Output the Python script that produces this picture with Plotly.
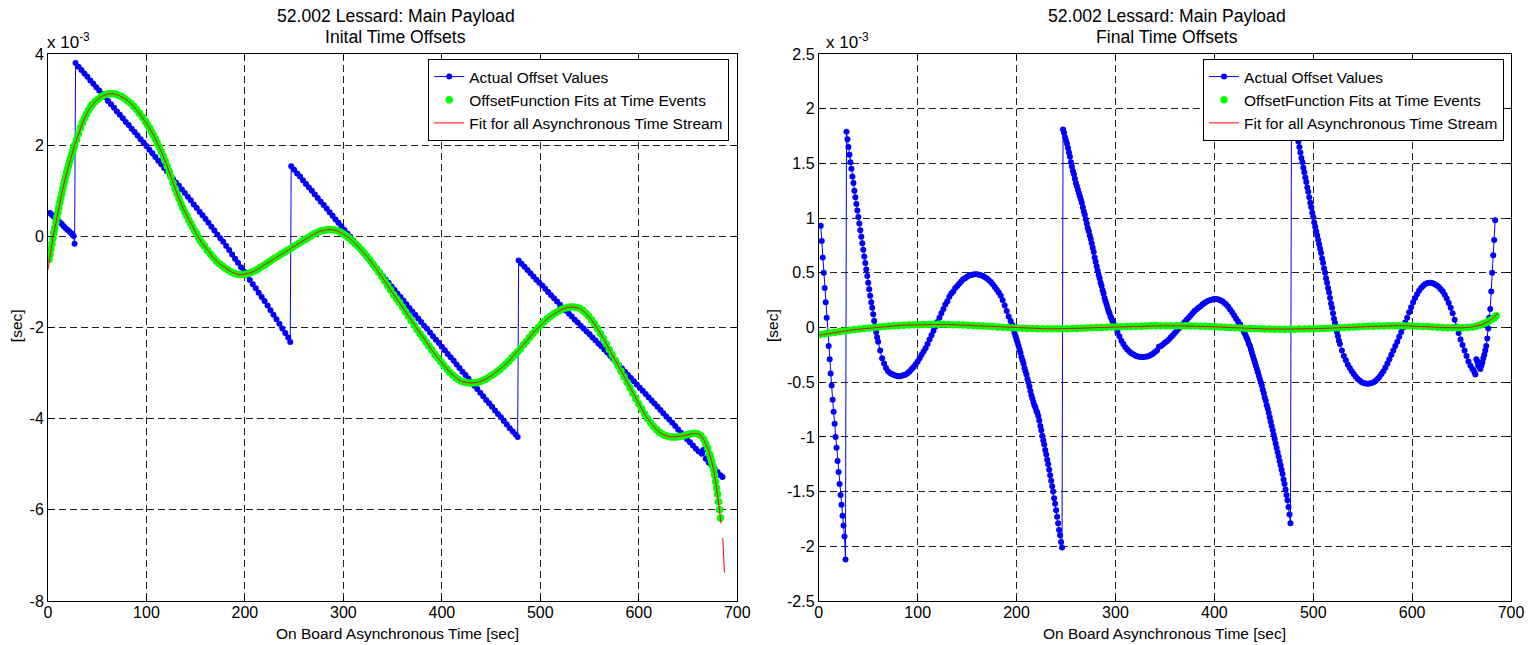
import plotly.graph_objects as go

# ---------------- tick labels ----------------
X_TICKS = [0, 100, 200, 300, 400, 500, 600, 700]
X_TICK_TEXT = ["0", "100", "200", "300", "400", "500", "600", "700"]
LEFT_Y_TICKS = [-8, -6, -4, -2, 0, 2, 4]
LEFT_Y_TICK_TEXT = ["-8", "-6", "-4", "-2", "0", "2", "4"]
RIGHT_Y_TICKS = [-2.5, -2, -1.5, -1, -0.5, 0, 0.5, 1, 1.5, 2, 2.5]
RIGHT_Y_TICK_TEXT = ["-2.5", "-2", "-1.5", "-1", "-0.5", "0", "0.5", "1", "1.5", "2", "2.5"]

TITLE_LINE1 = "52.002 Lessard: Main Payload"
LEFT_TITLE_LINE2 = "Inital Time Offsets"
RIGHT_TITLE_LINE2 = "Final Time Offsets"
X_LABEL = "On Board Asynchronous Time [sec]"
Y_LABEL = "[sec]"
NAMES = ["Actual Offset Values", "OffsetFunction Fits at Time Events",
         "Fit for all Asynchronous Time Stream"]

# ---------------- data: (time [s], offset [x 1e-3 s]) ----------------
LEFT_ACTUAL = [
    (2,0.51),(4,0.47),(6,0.43),(8,0.39),(10,0.35),(12,0.31),(14,0.27),(16,0.22),(18,0.18),(20,0.14),
    (22,0.10),(24,0.06),(26,0.01),(27,-0.16),
    (28,3.80),(31,3.72),(34,3.65),(37,3.57),(40,3.50),(43,3.42),(46,3.35),(49,3.27),(52,3.20),(55,3.12),
    (58,3.05),(61,2.97),(64,2.90),(67,2.82),(70,2.74),(73,2.67),(76,2.59),(79,2.51),(82,2.44),(85,2.36),
    (88,2.29),(91,2.21),(94,2.13),(97,2.06),(100,1.98),(103,1.90),(106,1.82),(109,1.74),(112,1.66),(115,1.58),
    (118,1.50),(121,1.42),(124,1.34),(127,1.26),(130,1.18),(133,1.11),(136,1.03),(139,0.95),(142,0.87),(145,0.79),
    (148,0.70),(151,0.62),(154,0.54),(157,0.46),(160,0.38),(163,0.30),(166,0.21),(169,0.13),(172,0.04),(175,-0.04),
    (178,-0.12),(181,-0.21),(184,-0.30),(187,-0.40),(190,-0.49),(193,-0.58),(196,-0.68),(199,-0.77),(202,-0.86),
    (205,-0.96),(208,-1.05),(211,-1.14),(214,-1.24),(217,-1.33),(220,-1.42),(223,-1.52),(226,-1.62),(229,-1.72),
    (232,-1.82),(235,-1.92),(238,-2.02),(241,-2.12),(244,-2.22),(246,-2.32),
    (247,1.54),(250,1.46),(253,1.38),(256,1.31),(259,1.23),(262,1.15),(265,1.07),(268,1.00),(271,0.92),(274,0.84),
    (277,0.76),(280,0.69),(283,0.61),(286,0.53),(289,0.45),(292,0.37),(295,0.30),(298,0.22),(301,0.14),(304,0.06),
    (307,-0.01),(310,-0.09),(313,-0.17),(316,-0.25),(319,-0.32),(322,-0.40),(325,-0.48),(328,-0.56),(331,-0.64),
    (334,-0.71),(337,-0.79),(340,-0.87),(343,-0.95),(346,-1.02),(349,-1.10),(352,-1.18),(355,-1.26),(358,-1.33),
    (361,-1.41),(364,-1.49),(367,-1.57),(370,-1.65),(373,-1.72),(376,-1.80),(379,-1.88),(382,-1.96),(385,-2.03),
    (388,-2.11),(391,-2.19),(394,-2.27),(397,-2.34),(400,-2.42),(403,-2.50),(406,-2.58),(409,-2.65),(412,-2.73),
    (415,-2.81),(418,-2.89),(421,-2.97),(424,-3.04),(427,-3.12),(430,-3.20),(433,-3.28),(436,-3.35),(439,-3.43),
    (442,-3.51),(445,-3.59),(448,-3.66),(451,-3.74),(454,-3.82),(457,-3.90),(460,-3.97),(463,-4.05),(466,-4.13),
    (469,-4.21),(472,-4.28),(475,-4.35),(477,-4.40),
    (478,-0.53),(481,-0.60),(484,-0.67),(487,-0.74),(490,-0.81),(493,-0.88),(496,-0.95),(499,-1.02),(502,-1.08),
    (505,-1.15),(508,-1.22),(511,-1.29),(514,-1.36),(517,-1.43),(520,-1.50),(523,-1.57),(526,-1.63),(529,-1.70),
    (532,-1.76),(535,-1.83),(538,-1.89),(541,-1.96),(544,-2.02),(547,-2.09),(550,-2.15),(553,-2.22),(556,-2.28),
    (559,-2.35),(562,-2.41),(565,-2.48),(568,-2.55),(571,-2.62),(574,-2.69),(577,-2.76),(580,-2.83),(583,-2.90),
    (586,-2.97),(589,-3.04),(592,-3.11),(595,-3.18),(598,-3.25),(601,-3.32),(604,-3.39),(607,-3.46),(610,-3.53),
    (613,-3.60),(616,-3.67),(619,-3.74),(622,-3.81),(625,-3.88),(628,-3.95),(631,-4.02),(634,-4.09),(637,-4.16),
    (640,-4.24),(643,-4.31),(646,-4.38),(649,-4.45),(652,-4.52),(655,-4.59),(658,-4.66),(661,-4.72),(664,-4.77),
    (666,-4.68),(668,-4.88),(671,-4.96),(674,-5.03),(677,-5.10),(680,-5.17),(683,-5.24),(685,-5.28),
]

LEFT_FIT_EVENTS = [
    (1,-0.50),(2,-0.40),(3,-0.28),(4,-0.16),(5,-0.04),(6,0.08),(7,0.19),(8,0.31),(9,0.42),(10,0.53),
    (11,0.63),(12,0.74),(13,0.84),(14,0.94),(15,1.04),(16,1.13),(17,1.22),(18,1.31),(19,1.40),(20,1.48),
    (21,1.56),(22,1.64),(23,1.72),(24,1.79),(25,1.86),(26,1.93),(27,2.00),
    (29,2.12),(31,2.25),(33,2.38),(35,2.49),(37,2.59),(39,2.68),(41,2.76),(43,2.83),(45,2.89),
    (48,2.96),(51,3.01),(54,3.06),(57,3.10),(60,3.12),(63,3.13),(66,3.13),(69,3.12),(72,3.09),(75,3.06),
    (78,3.02),(81,2.97),(84,2.92),(87,2.85),(90,2.78),(93,2.70),(96,2.61),(99,2.52),
    (101,2.45),(103,2.38),(105,2.30),(107,2.22),(109,2.14),(111,2.05),(113,1.96),(115,1.86),(117,1.76),
    (119,1.65),(121,1.54),(123,1.42),(125,1.30),(127,1.17),(129,1.05),(131,0.94),(133,0.83),(135,0.72),
    (137,0.62),(139,0.53),(141,0.45),(143,0.36),(145,0.28),(147,0.20),(149,0.12),(151,0.05),(153,-0.03),
    (155,-0.10),(157,-0.16),(159,-0.22),
    (162,-0.31),(165,-0.39),(168,-0.47),(171,-0.54),(174,-0.60),(177,-0.65),(180,-0.70),(183,-0.74),(186,-0.78),
    (189,-0.81),(192,-0.83),(195,-0.84),(198,-0.84),(201,-0.83),(204,-0.81),(207,-0.79),(210,-0.76),(213,-0.72),
    (216,-0.68),(219,-0.64),(222,-0.60),(225,-0.55),(228,-0.51),(231,-0.47),(234,-0.43),(237,-0.39),(240,-0.35),
    (243,-0.31),(246,-0.27),(249,-0.23),(252,-0.19),(255,-0.15),(258,-0.11),(261,-0.07),(264,-0.03),(267,0.01),
    (270,0.05),(273,0.08),(276,0.11),(279,0.13),(282,0.14),(285,0.15),(288,0.15),(291,0.14),(294,0.12),(297,0.09),
    (300,0.05),(303,0.01),(306,-0.04),(309,-0.10),(312,-0.16),(315,-0.22),(318,-0.29),(321,-0.36),(324,-0.44),
    (327,-0.52),(330,-0.61),(333,-0.70),(336,-0.79),(339,-0.88),(342,-0.98),(345,-1.08),(348,-1.18),(351,-1.28),
    (354,-1.37),(357,-1.45),(360,-1.55),(363,-1.65),(366,-1.75),(369,-1.85),(372,-1.95),(375,-2.05),(378,-2.14),
    (381,-2.23),(384,-2.32),(387,-2.41),(390,-2.50),(393,-2.59),(396,-2.67),(399,-2.75),(402,-2.83),(405,-2.91),
    (408,-2.98),(411,-3.04),(414,-3.10),(417,-3.14),(420,-3.18),(423,-3.20),(426,-3.21),(429,-3.22),(432,-3.22),
    (435,-3.21),(438,-3.19),(441,-3.17),(444,-3.14),(447,-3.10),(450,-3.06),(453,-3.02),(456,-2.97),(459,-2.92),
    (462,-2.86),(465,-2.80),(468,-2.74),(471,-2.67),(474,-2.60),(477,-2.53),(480,-2.46),(483,-2.38),(486,-2.30),
    (489,-2.22),(492,-2.14),(495,-2.07),(498,-2.00),(501,-1.93),(504,-1.87),(507,-1.81),(510,-1.76),(513,-1.71),
    (516,-1.67),(519,-1.63),(522,-1.60),(525,-1.58),(528,-1.56),(531,-1.55),(534,-1.55),(537,-1.56),(540,-1.58),
    (543,-1.62),(546,-1.68),(549,-1.75),(552,-1.83),(555,-1.92),(558,-2.02),(561,-2.13),(564,-2.24),(567,-2.36),
    (570,-2.48),(573,-2.60),(576,-2.72),(579,-2.84),(582,-2.96),(585,-3.08),(588,-3.20),(591,-3.32),(594,-3.44),
    (597,-3.56),(600,-3.68),(603,-3.79),(606,-3.90),(609,-4.00),(612,-4.09),(615,-4.17),(618,-4.24),(621,-4.30),
    (624,-4.34),(627,-4.37),(630,-4.39),(633,-4.40),(636,-4.40),(639,-4.40),(642,-4.39),(645,-4.38),(648,-4.36),
    (651,-4.34),(654,-4.33),(657,-4.32),(660,-4.33),(663,-4.37),(666,-4.45),(668,-4.55),(670,-4.65),(672,-4.78),
    (673,-4.86),(674,-4.94),(675,-5.02),(676,-5.12),(677,-5.24),(678,-5.38),(679,-5.52),(680,-5.66),(681,-5.82),
    (682,-6.00),(683,-6.18),
]

LEFT_FIT_STREAM = [
    (0,-0.73),(2,-0.42),(4,-0.16),(6,0.08),(9,0.42),(12,0.74),(15,1.04),(18,1.31),(21,1.56),(24,1.79),(27,2.00),
    (30,2.18),(36,2.54),(42,2.80),(48,2.96),(54,3.06),(60,3.12),(66,3.13),(72,3.09),(78,3.02),(84,2.92),(90,2.78),
    (96,2.61),(102,2.42),(108,2.18),(114,1.91),(120,1.60),(126,1.23),(132,0.88),(138,0.58),(144,0.32),(150,0.08),
    (156,-0.13),(162,-0.31),(168,-0.47),(174,-0.60),(180,-0.70),(186,-0.78),(192,-0.83),(198,-0.84),(204,-0.81),
    (210,-0.76),(216,-0.68),(222,-0.60),(228,-0.51),(234,-0.43),(240,-0.35),(246,-0.27),(252,-0.19),(258,-0.11),
    (264,-0.03),(270,0.05),(276,0.11),(282,0.14),(288,0.15),(294,0.12),(300,0.05),(306,-0.04),(312,-0.16),
    (318,-0.29),(324,-0.44),(330,-0.61),(336,-0.79),(342,-0.98),(348,-1.18),(354,-1.37),(360,-1.55),(366,-1.75),
    (372,-1.95),(378,-2.14),(384,-2.32),(390,-2.50),(396,-2.67),(402,-2.83),(408,-2.98),(414,-3.10),(420,-3.18),
    (426,-3.21),(432,-3.22),(438,-3.19),(444,-3.14),(450,-3.06),(456,-2.97),(462,-2.86),(468,-2.74),(474,-2.60),
    (480,-2.46),(486,-2.30),(492,-2.14),(498,-2.00),(504,-1.87),(510,-1.76),(516,-1.67),(522,-1.60),(528,-1.56),
    (534,-1.55),(540,-1.58),(546,-1.68),(552,-1.83),(558,-2.02),(564,-2.24),(570,-2.48),(576,-2.72),(582,-2.96),
    (588,-3.20),(594,-3.44),(600,-3.68),(606,-3.90),(612,-4.09),(618,-4.24),(624,-4.34),(630,-4.39),(636,-4.40),
    (642,-4.39),(648,-4.36),(654,-4.33),(660,-4.33),(664,-4.39),(668,-4.55),(671,-4.71),(674,-4.94),(676,-5.12),
    (678,-5.38),(680,-5.66),(682,-6.00),(683.5,-6.30),(684.4,None),(685.3,-6.62),(686.2,-7.00),(687,-7.38),
]

RIGHT_ACTUAL = [
    (2,0.93),(3,0.79),(4,0.64),(5,0.50),(6,0.36),(7,0.23),(8,0.09),(9,-0.05),(10,-0.17),(11,-0.29),(12,-0.42),
    (13,-0.53),(14,-0.66),(15,-0.77),(16,-0.88),(17,-1.00),(18,-1.10),(19,-1.22),(20,-1.32),(21,-1.43),(22,-1.53),
    (23,-1.62),(24,-1.72),(25,-1.81),(26,-1.91),(27,-2.12),
    (28,1.79),(29,1.72),(30,1.65),(31,1.58),(32,1.51),(33,1.45),(34,1.38),(35,1.32),(36,1.25),(37,1.19),(38,1.13),
    (39,1.07),(40,1.01),(41,0.95),(42,0.89),(43,0.83),(44,0.77),(45,0.71),(46,0.65),(47,0.59),(48,0.53),(49,0.47),
    (50,0.41),(51,0.35),(52,0.29),(53,0.23),(54,0.18),(55,0.12),(56,0.06),(57,0.01),(58,-0.04),(59,-0.09),
    (60,-0.13),(62,-0.21),(64,-0.28),(66,-0.33),(68,-0.37),(70,-0.40),(72,-0.415),(74,-0.425),(76,-0.435),
    (78,-0.44),(80,-0.445),(82,-0.445),(84,-0.44),(86,-0.435),(88,-0.43),(90,-0.415),(92,-0.40),(94,-0.38),
    (96,-0.36),(98,-0.335),(100,-0.31),(102,-0.28),(104,-0.25),(106,-0.22),(108,-0.19),(110,-0.15),(112,-0.11),
    (114,-0.07),(116,-0.03),(118,0.01),(120,0.05),(122,0.09),(124,0.13),(126,0.17),(128,0.21),(130,0.24),
    (132,0.28),(134,0.31),(136,0.33),(138,0.36),(140,0.38),(142,0.40),(144,0.42),(146,0.44),(148,0.45),
    (150,0.465),(152,0.475),(154,0.48),(156,0.485),(158,0.487),(160,0.487),(162,0.483),(164,0.478),(166,0.47),
    (168,0.46),(170,0.447),(172,0.432),(174,0.415),(176,0.395),(178,0.37),(180,0.345),(182,0.32),(184,0.29),
    (186,0.25),(188,0.20),(190,0.15),(192,0.10),(194,0.06),(196,0.02),
    (197,-0.02),(198,-0.05),(199,-0.08),(200,-0.11),(201,-0.14),(202,-0.17),(203,-0.20),(204,-0.23),(205,-0.27),
    (206,-0.30),(207,-0.33),(208,-0.37),(209,-0.40),(210,-0.43),(211,-0.47),(212,-0.50),(213,-0.54),(214,-0.58),
    (215,-0.62),(216,-0.65),(217,-0.68),(218,-0.71),(219,-0.73),(220,-0.76),(221,-0.78),(222,-0.81),(223,-0.85),
    (224,-0.90),(225,-0.94),(226,-0.99),(227,-1.03),(228,-1.07),(229,-1.12),(230,-1.16),(231,-1.21),(232,-1.25),
    (233,-1.30),(234,-1.35),(235,-1.40),(236,-1.45),(237,-1.50),(238,-1.56),(239,-1.61),(240,-1.67),(241,-1.73),
    (242,-1.79),(243,-1.85),(244,-1.90),(245,-1.96),(246,-2.01),
    (247,1.81),(248,1.78),(249,1.74),(250,1.71),(251,1.68),(252,1.64),(253,1.60),(254,1.56),(255,1.51),(256,1.47),
    (257,1.43),(258,1.40),(259,1.36),(260,1.32),(261,1.29),(262,1.26),(263,1.23),(264,1.20),(265,1.17),(266,1.14),
    (267,1.10),(268,1.06),(269,1.03),(270,0.99),(271,0.95),(272,0.91),(273,0.88),(274,0.84),(275,0.81),(276,0.77),
    (277,0.73),(278,0.69),(279,0.64),(280,0.60),(281,0.56),(282,0.52),(283,0.48),(284,0.45),(285,0.41),(286,0.38),
    (287,0.34),(288,0.31),(289,0.27),(290,0.24),(291,0.21),(292,0.18),(293,0.15),(294,0.13),(295,0.10),(296,0.08),
    (297,0.06),(298,0.04),(299,0.02),(300,0.00),
    (302,-0.04),(304,-0.08),(306,-0.12),(308,-0.15),(310,-0.18),(312,-0.20),(314,-0.22),(316,-0.235),(318,-0.245),
    (320,-0.255),(322,-0.262),(324,-0.267),(326,-0.27),(328,-0.27),(330,-0.268),(332,-0.265),(334,-0.26),
    (336,-0.25),(338,-0.24),(340,-0.225),(342,-0.21),(344,-0.175),(346,-0.17),(348,-0.155),(350,-0.14),
    (352,-0.125),(354,-0.11),(356,-0.09),(358,-0.07),(360,-0.05),(362,-0.03),(364,-0.01),(366,0.01),(368,0.03),
    (370,0.05),(372,0.07),(374,0.09),(376,0.11),(378,0.13),(380,0.15),(382,0.165),(384,0.18),(386,0.195),
    (388,0.21),(390,0.225),(392,0.235),(394,0.245),(396,0.252),(398,0.257),(400,0.26),(402,0.26),(404,0.257),
    (406,0.25),(408,0.24),(410,0.225),(412,0.21),(414,0.19),(416,0.165),(418,0.14),(420,0.11),(422,0.08),
    (424,0.055),(426,0.03),(428,0.00),(429,-0.02),(430,-0.04),(431,-0.06),(432,-0.08),(433,-0.10),
    (434,-0.12),(435,-0.15),(436,-0.17),(437,-0.20),(438,-0.23),(439,-0.26),(440,-0.29),(441,-0.32),(442,-0.35),
    (443,-0.38),(444,-0.41),(445,-0.44),(446,-0.47),(447,-0.50),(448,-0.53),(449,-0.57),(450,-0.60),(451,-0.64),
    (452,-0.67),(453,-0.71),(454,-0.74),(455,-0.78),(456,-0.82),(457,-0.86),(458,-0.90),(459,-0.94),(460,-0.98),
    (461,-1.02),(462,-1.06),(463,-1.10),(464,-1.14),(465,-1.18),(466,-1.22),(467,-1.26),(468,-1.30),(469,-1.34),
    (470,-1.39),(471,-1.43),(472,-1.48),(473,-1.53),(474,-1.58),(475,-1.64),(476,-1.71),(477,-1.79),
    (478,2.00),(479,1.96),(480,1.92),(481,1.88),(482,1.83),(483,1.79),(484,1.74),(485,1.70),(486,1.65),(487,1.60),
    (488,1.55),(489,1.51),(490,1.46),(491,1.42),(492,1.37),(493,1.33),(494,1.28),(495,1.24),(496,1.19),(497,1.14),
    (498,1.10),(499,1.05),(500,1.01),(501,0.96),(502,0.92),(503,0.88),(504,0.84),(505,0.80),(506,0.76),(507,0.72),
    (508,0.68),(509,0.63),(510,0.59),(511,0.54),(512,0.50),(513,0.45),(514,0.41),(515,0.36),(516,0.32),(517,0.27),
    (518,0.22),(519,0.18),(520,0.13),(521,0.08),(522,0.04),(523,0.00),(524,-0.04),(525,-0.08),(526,-0.12),
    (527,-0.15),
    (529,-0.21),(531,-0.26),(533,-0.30),(535,-0.34),(537,-0.37),(539,-0.40),(541,-0.425),(543,-0.45),(545,-0.47),
    (547,-0.485),(549,-0.50),(551,-0.508),(553,-0.513),(555,-0.515),(557,-0.513),(559,-0.508),(561,-0.50),
    (563,-0.49),(565,-0.47),(567,-0.45),(569,-0.425),(571,-0.40),(573,-0.365),(575,-0.33),(577,-0.29),(579,-0.25),
    (581,-0.21),(583,-0.17),(585,-0.13),(587,-0.085),(589,-0.04),(591,0.00),(593,0.045),(595,0.09),(597,0.14),
    (599,0.185),(601,0.23),(603,0.27),(605,0.305),(607,0.335),(609,0.36),(611,0.38),(613,0.395),(615,0.405),
    (617,0.41),(619,0.41),(621,0.405),(623,0.395),(625,0.385),(627,0.37),(629,0.35),(631,0.33),(633,0.30),
    (635,0.265),(637,0.225),(639,0.18),(641,0.13),(643,0.07),(645,0.01),(647,-0.05),(649,-0.11),(651,-0.16),
    (653,-0.21),(655,-0.26),(657,-0.31),(659,-0.35),(661,-0.38),(663,-0.41),(664,-0.43),(665,-0.29),(666,-0.31),
    (667,-0.34),(668,-0.36),(669,-0.38),(670,-0.35),(671,-0.32),(672,-0.28),(673,-0.25),(674,-0.21),(675,-0.17),
    (676,-0.10),(677,-0.01),(678,0.09),(679,0.17),(680,0.33),(681,0.50),(682,0.66),(683,0.80),(684,0.98),
]

RIGHT_FIT_EVENTS = [
    (1,-0.065),(6,-0.057),(11,-0.050),(16,-0.043),(21,-0.037),(26,-0.031),(31,-0.025),(36,-0.019),(41,-0.014),
    (46,-0.009),(51,-0.004),(56,0.001),(61,0.005),(66,0.009),(71,0.013),(76,0.016),(81,0.019),(86,0.021),
    (91,0.023),(96,0.025),(101,0.026),(106,0.027),(111,0.028),(116,0.030),(121,0.030),(126,0.029),(131,0.027),
    (136,0.025),(141,0.024),(146,0.022),(151,0.020),(156,0.018),(161,0.016),(166,0.013),(171,0.011),(176,0.008),
    (181,0.005),(186,0.003),(191,0.000),(196,-0.003),(201,-0.005),(206,-0.007),(211,-0.008),(216,-0.010),
    (221,-0.011),(226,-0.012),(231,-0.012),(236,-0.012),(241,-0.012),(246,-0.011),(251,-0.011),(256,-0.009),
    (261,-0.008),(266,-0.007),(271,-0.005),(276,-0.003),(281,-0.001),(286,0.000),(291,0.002),(296,0.004),
    (301,0.006),(306,0.007),(311,0.008),(316,0.010),(321,0.011),(326,0.012),(331,0.013),(336,0.015),(341,0.015),
    (346,0.016),(351,0.016),(356,0.016),(361,0.016),(366,0.016),(371,0.015),(376,0.014),(381,0.013),(386,0.012),
    (391,0.011),(396,0.009),(401,0.007),(406,0.005),(411,0.002),(416,-0.001),(421,-0.003),(426,-0.005),
    (431,-0.008),(436,-0.010),(441,-0.011),(446,-0.012),(451,-0.013),(456,-0.014),(461,-0.015),(466,-0.015),
    (471,-0.015),(476,-0.015),(481,-0.015),(486,-0.014),(491,-0.013),(496,-0.012),(501,-0.011),(506,-0.010),
    (511,-0.008),(516,-0.006),(521,-0.004),(526,-0.002),(531,0.000),(536,0.003),(541,0.005),(546,0.007),
    (551,0.009),(556,0.011),(561,0.012),(566,0.013),(571,0.014),(576,0.015),(581,0.016),(586,0.016),(591,0.016),
    (596,0.015),(601,0.014),(606,0.012),(611,0.010),(616,0.008),(621,0.005),(626,0.003),(631,0.000),
    (636,-0.002),(641,-0.003),(646,-0.003),(651,-0.003),(656,-0.001),(661,0.004),(665,0.012),(668,0.020),
    (671,0.029),(674,0.040),(677,0.054),(680,0.070),(683,0.090),(685,0.107),
]

RIGHT_FIT_STREAM = [
    (1,-0.070),(10,-0.055),(20,-0.040),(30,-0.027),(40,-0.016),(50,-0.006),(60,0.004),(70,0.012),(80,0.018),
    (90,0.023),(100,0.026),(110,0.028),(120,0.031),(130,0.028),(140,0.024),(150,0.020),(160,0.016),(170,0.011),
    (180,0.005),(190,0.000),(200,-0.005),(210,-0.008),(220,-0.011),(230,-0.012),(240,-0.012),(250,-0.011),
    (260,-0.008),(270,-0.005),(280,-0.001),(290,0.002),(300,0.006),(310,0.008),(320,0.011),(330,0.013),
    (340,0.015),(350,0.016),(360,0.016),(370,0.015),(380,0.013),(390,0.011),(400,0.007),(410,0.002),
    (420,-0.003),(430,-0.008),(440,-0.011),(450,-0.013),(460,-0.015),(470,-0.015),(480,-0.015),(490,-0.013),
    (500,-0.011),(510,-0.008),(520,-0.004),(530,0.000),(540,0.005),(550,0.009),(560,0.012),(570,0.014),
    (580,0.016),(590,0.016),(600,0.014),(610,0.010),(620,0.005),(630,0.000),(640,-0.003),(650,-0.003),
    (660,0.003),(670,0.026),(678,0.060),(683,0.095),(687,0.130),
]


def split(pairs):
    return [p[0] for p in pairs], [p[1] for p in pairs]


# ---------------- geometry (pixels) ----------------
W, H = 1536, 645
ML, MR, MT, MB = 48, 17, 54, 44
PW = W - ML - MR
PH = H - MT - MB
L_X0, L_X1 = 48, 741
R_X0, R_X1 = 823, 1519


def px_x(px):
    return (px - ML) / PW


def px_y(py):
    return (H - MB - py) / PH


BLUE, GREEN, RED = "#0000ff", "#00ff00", "#ff0000"
FONT = "Arial, 'Liberation Sans', Helvetica, sans-serif"

fig = go.Figure()

panels = [
    ("x", "y", "legend", LEFT_ACTUAL, LEFT_FIT_EVENTS, LEFT_FIT_STREAM),
    ("x2", "y2", "legend2", RIGHT_ACTUAL, RIGHT_FIT_EVENTS, RIGHT_FIT_STREAM),
]
for xa, ya, lg, actual, events, stream in panels:
    t, v = split(actual)
    fig.add_trace(go.Scatter(x=t, y=v, mode="lines+markers", name=NAMES[0],
                             line=dict(color=BLUE, width=1),
                             marker=dict(color=BLUE, size=6),
                             xaxis=xa, yaxis=ya, legend=lg, hoverinfo="skip"))
    t, v = split(events)
    fig.add_trace(go.Scatter(x=t, y=v, mode="markers", name=NAMES[1],
                             marker=dict(color=GREEN, size=7.5),
                             xaxis=xa, yaxis=ya, legend=lg, hoverinfo="skip"))
    t, v = split(stream)
    fig.add_trace(go.Scatter(x=t, y=v, mode="lines", name=NAMES[2],
                             line=dict(color=RED, width=1),
                             xaxis=xa, yaxis=ya, legend=lg, hoverinfo="skip"))

axis_common = dict(showline=True, linecolor="black", linewidth=1, mirror="ticks",
                   ticks="inside", ticklen=5, tickcolor="black", tickwidth=1,
                   showgrid=True, gridcolor="#222222", gridwidth=1, griddash="7px,4px",
                   zeroline=False, tickfont=dict(size=16, color="black", family=FONT))

fig.update_layout(
    width=W, height=H,
    margin=dict(l=ML, r=MR, t=MT, b=MB),
    paper_bgcolor="white", plot_bgcolor="white",
    font=dict(family=FONT, size=16, color="black"),
    showlegend=True,
    xaxis=dict(domain=[px_x(L_X0), px_x(L_X1)], range=[0, 700], anchor="y",
               tickvals=X_TICKS, ticktext=X_TICK_TEXT, ticklabelstandoff=-3, **axis_common),
    yaxis=dict(domain=[0, 1], range=[-8, 4], anchor="x",
               tickvals=LEFT_Y_TICKS, ticktext=LEFT_Y_TICK_TEXT, **axis_common),
    xaxis2=dict(domain=[px_x(R_X0), px_x(R_X1)], range=[0, 700], anchor="y2",
                tickvals=X_TICKS, ticktext=X_TICK_TEXT, ticklabelstandoff=-3, **axis_common),
    yaxis2=dict(domain=[0, 1], range=[-2.5, 2.5], anchor="x2",
                tickvals=RIGHT_Y_TICKS, ticktext=RIGHT_Y_TICK_TEXT, **axis_common),
    legend=dict(x=px_x(733), y=px_y(59), xanchor="right", yanchor="top",
                bgcolor="white", bordercolor="black", borderwidth=1,
                font=dict(size=15.5, family=FONT), tracegroupgap=0),
    legend2=dict(x=px_x(1512), y=px_y(59), xanchor="right", yanchor="top",
                 bgcolor="white", bordercolor="black", borderwidth=1,
                 font=dict(size=15.5, family=FONT), tracegroupgap=0),
)

annotations = []
for x0, x1, line2, dx_title, dx_label in [(L_X0, L_X1, LEFT_TITLE_LINE2, 3, 5),
                                          (R_X0, R_X1, RIGHT_TITLE_LINE2, 2, 0)]:
    cx_t = px_x((x0 + x1) / 2 + dx_title)
    cx_l = px_x((x0 + x1) / 2 + dx_label)
    annotations.append(dict(text=TITLE_LINE1, x=cx_t, y=px_y(16.5), xref="paper", yref="paper",
                            xanchor="center", yanchor="middle", showarrow=False,
                            font=dict(size=17.6, family=FONT)))
    annotations.append(dict(text=line2, x=cx_t, y=px_y(36.5), xref="paper", yref="paper",
                            xanchor="center", yanchor="middle", showarrow=False,
                            font=dict(size=17.6, family=FONT)))
    annotations.append(dict(text=X_LABEL, x=cx_l, y=px_y(633), xref="paper", yref="paper",
                            xanchor="center", yanchor="middle", showarrow=False,
                            font=dict(size=15.5, family=FONT)))
annotations.append(dict(text=Y_LABEL, x=px_x(16), y=px_y(326), xref="paper", yref="paper",
                        xanchor="center", yanchor="middle", textangle=-90, showarrow=False,
                        font=dict(size=15.5, family=FONT)))
annotations.append(dict(text=Y_LABEL, x=px_x(776), y=px_y(326), xref="paper", yref="paper",
                        xanchor="center", yanchor="middle", textangle=-90, showarrow=False,
                        font=dict(size=15.5, family=FONT)))
annotations.append(dict(text="x 10<sup>-3</sup>", x=px_x(45), y=px_y(41), xref="paper", yref="paper",
                        xanchor="left", yanchor="middle", showarrow=False,
                        font=dict(size=17, family=FONT)))
annotations.append(dict(text="x 10<sup>-3</sup>", x=px_x(828), y=px_y(41), xref="paper", yref="paper",
                        xanchor="left", yanchor="middle", showarrow=False,
                        font=dict(size=17, family=FONT)))
fig.update_layout(annotations=annotations)

fig.write_html("out.html")
